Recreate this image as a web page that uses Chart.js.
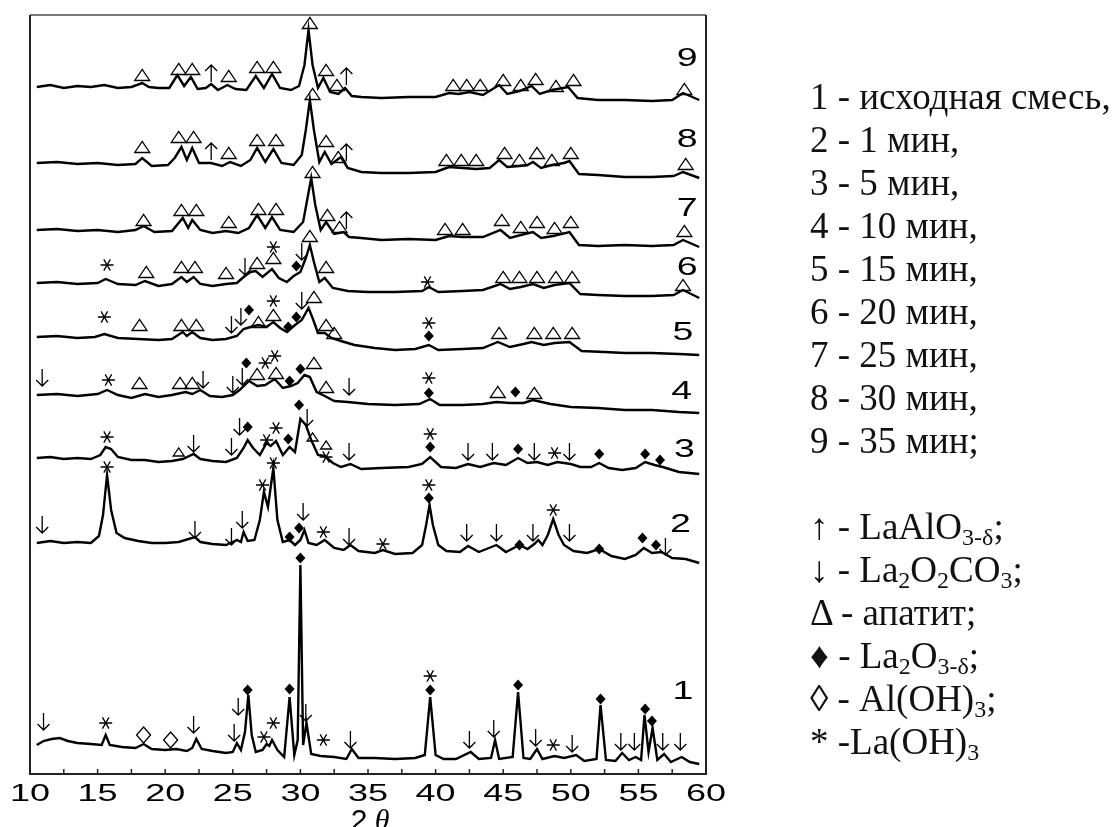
<!DOCTYPE html>
<html>
<head>
<meta charset="utf-8">
<script src="https://cdn.jsdelivr.net/npm/chart.js@4.4.1/dist/chart.umd.min.js"></script>
<style>
  body { margin: 0; background: #fff; }
  #wrap { position: absolute; left: 0; top: 0; width: 1117px; height: 827px; }
  #legend {
    position: absolute; left: 810px; top: 75px;
    font-family: "Liberation Serif", "Times New Roman", serif;
    font-size: 37px; line-height: 43px; color: #111; white-space: nowrap;
  }
  #legend .s { font-size: 24px; position: relative; top: 6px; line-height: 0; }
</style>
</head>
<body>
<div id="wrap"><canvas id="xrd"></canvas></div>
<div id="legend">
  1 - исходная смесь,<br>
  2 - 1 мин,<br>
  3 - 5 мин,<br>
  4 - 10 мин,<br>
  5 - 15 мин,<br>
  6 - 20 мин,<br>
  7 - 25 мин,<br>
  8 - 30 мин,<br>
  9 - 35 мин;<br>
  <br>
  ↑ - LaAlO<span class="s">3-δ</span>;<br>
  ↓ - La<span class="s">2</span>O<span class="s">2</span>CO<span class="s">3</span>;<br>
  Δ - апатит;<br>
  ♦ - La<span class="s">2</span>O<span class="s">3-δ</span>;<br>
  ◊ - Al(OH)<span class="s">3</span>;<br>
  * -La(OH)<span class="s">3</span>
</div>
<script>
// x axis
const xTicks = [10, 15, 20, 25, 30, 35, 40, 45, 50, 55, 60];
const xMinor = [12.5, 17.5, 22.5, 27.5, 32.5, 37.5, 42.5, 47.5, 52.5, 57.5];

// patterns (2theta, intensity a.u., stacked)
const p1 = [[10.5,29],[11.0,33],[11.6,35],[12.2,36],[12.8,33],[13.5,31],[14.5,30],[15.3,29],[15.6,39],[15.9,29],[16.8,27],[17.8,26],[18.4,30],[19.0,25],[20.0,24],[20.8,25],[21.6,23],[22.0,26],[22.3,35],[22.7,25],[23.5,23],[24.5,21],[25.0,22],[25.3,31],[25.6,24],[25.9,42],[26.15,79],[26.4,39],[26.7,22],[27.2,24],[27.5,30],[27.7,28],[27.9,34],[28.3,24],[28.8,17],[29.2,77],[29.55,19],[29.8,34],[30.0,209],[30.2,29],[30.45,51],[30.8,20],[31.5,18],[32.5,17],[33.4,15],[33.8,25],[34.3,16],[35.5,16],[37,15],[38.5,16],[39.2,19],[39.6,77],[40.0,19],[40.6,15],[41.5,15],[42.6,22],[43.2,15],[44.1,16],[44.4,34],[44.7,15],[45.7,17],[46.1,82],[46.5,16],[47.0,15],[47.5,25],[47.9,15],[48.8,18],[49.5,16],[50.4,19],[51.0,13],[51.9,15],[52.2,69],[52.6,14],[53.3,13],[53.8,21],[54.3,14],[54.8,17],[55.2,14],[55.45,59],[55.75,22],[56.05,46],[56.4,14],[56.9,20],[57.4,12],[58.2,17],[58.8,12],[59.5,10]];
const p2 = [[10.5,231],[11.5,233],[12.5,231],[13.5,232],[14.5,231],[15.1,238],[15.4,259],[15.7,299],[16.0,264],[16.4,241],[17,236],[18,233],[19,231],[20,231],[21,232],[22.2,237],[22.6,232],[23.5,230],[24.5,229],[25.3,234],[25.6,232],[25.8,242],[26.1,233],[26.6,234],[27.0,254],[27.3,282],[27.6,267],[28.0,306],[28.3,254],[28.7,232],[29.2,234],[29.6,229],[30.0,234],[30.3,244],[30.6,231],[31.2,229],[31.8,234],[32.5,226],[33.2,224],[33.7,229],[34.3,223],[35.5,221],[36.1,224],[37,220],[38.3,221],[39.0,229],[39.3,249],[39.55,269],[39.8,249],[40.2,229],[40.8,223],[41.8,222],[42.4,228],[43.2,222],[44.5,229],[45.2,222],[46.2,229],[46.8,225],[47.3,230],[47.6,234],[47.9,229],[48.3,239],[48.7,255],[49.1,239],[49.5,229],[50.2,223],[51.2,221],[52.1,225],[53.0,218],[54.0,215],[54.8,219],[55.4,226],[56.0,221],[56.7,222],[57.5,216],[58.5,215],[59.5,211]];
const p3 = [[10.5,316],[11.5,317],[12.5,315],[13.5,316],[14.5,315],[15.2,319],[15.6,327],[16.0,325],[16.5,317],[17.5,314],[18.5,314],[19.5,312],[20.5,313],[21.3,315],[22.1,320],[22.6,315],[23.5,313],[24.5,312],[25.3,316],[25.8,326],[26.1,334],[26.5,326],[27.0,319],[27.5,331],[27.8,328],[28.2,333],[28.7,319],[29.2,327],[29.6,322],[30.0,355],[30.4,349],[30.8,334],[31.3,319],[31.8,318],[32.4,311],[33.0,307],[33.7,310],[34.5,305],[36,306],[38,307],[39.0,310],[39.6,317],[40.4,307],[41.5,306],[42.4,310],[43.3,307],[44.3,311],[45.2,309],[46.1,316],[46.8,311],[47.5,312],[48.3,309],[49.0,312],[50.0,310],[50.7,307],[51.5,307],[52.1,311],[52.8,306],[53.8,304],[54.8,306],[55.5,312],[56.2,309],[56.8,307],[58,302],[59.5,300]];
const p4 = [[10.5,379],[12,380],[13.5,378],[15,380],[15.7,384],[16.5,379],[17.5,376],[18.5,380],[19.5,377],[20.5,379],[21.5,382],[22.0,380],[22.6,384],[23.3,378],[24.2,377],[25.0,379],[25.5,384],[26.2,393],[26.8,388],[27.4,389],[28.1,395],[28.7,386],[29.3,388],[29.8,391],[30.3,399],[30.7,397],[31.2,382],[31.8,378],[32.5,373],[33.5,372],[35,370],[37,369],[38.8,370],[39.6,375],[40.3,369],[42,369],[43.5,370],[44.5,372],[45.5,371],[46.5,371],[47.2,374],[48.5,370],[50,367],[52,366],[54,364],[56,364],[58,362],[59.5,361]];
const p5 = [[10.5,437],[12,438],[13.5,436],[14.8,437],[15.5,440],[16.5,436],[18,435],[19.5,434],[20.5,435],[21.3,442],[21.6,438],[22.0,442],[22.6,436],[23.5,434],[24.5,435],[25.3,438],[25.8,445],[26.3,447],[26.9,449],[27.5,447],[28.0,452],[28.5,446],[29.0,442],[29.6,449],[30.1,454],[30.6,466],[30.9,456],[31.3,441],[31.8,441],[32.3,436],[33,433],[34,429],[35.5,426],[37,424],[38.5,425],[39.5,429],[40.2,424],[42,425],[43.5,426],[44.6,432],[45.5,427],[46.5,430],[47.1,432],[48,429],[48.8,431],[49.9,432],[50.8,423],[52.5,422],[54,421],[56,421],[58,420],[59.5,419]];
const p6 = [[10.5,491],[12,492],[13.5,490],[15,491],[15.6,495],[16.5,490],[17.8,489],[18.5,493],[19.5,488],[20.5,490],[21.2,497],[21.6,492],[22.1,497],[22.6,490],[23.5,488],[24.5,490],[25.3,491],[25.8,497],[26.3,502],[26.7,503],[27.2,497],[27.9,505],[28.4,496],[29.0,492],[29.5,498],[30.0,502],[30.4,516],[30.7,529],[31.0,512],[31.4,492],[31.8,496],[32.4,486],[33.5,483],[35,482],[37,482],[39,483],[39.5,487],[40.2,482],[42,483],[43.5,484],[44.8,490],[45.5,485],[46.3,487],[47.2,490],[48,486],[48.8,489],[49.9,491],[50.7,480],[52,479],[54,478],[56,478],[57.6,479],[58.3,484],[59.5,476]];
const p7 = [[10.5,544],[12,545],[13.5,543],[15,544],[16.5,542],[17.8,544],[18.4,548],[19.2,542],[20.5,543],[21.3,556],[21.7,546],[22.0,554],[22.6,544],[23.5,541],[24.5,543],[25.4,541],[26.2,546],[26.8,559],[27.4,546],[27.9,557],[28.5,544],[29.5,542],[30.2,552],[30.5,574],[30.8,596],[31.1,569],[31.5,544],[31.9,552],[32.5,540],[33.2,542],[33.6,537],[34.5,536],[36,534],[38,535],[40,534],[41,538],[42,537],[43.5,537],[44.8,544],[45.5,536],[46.3,539],[47.2,542],[47.8,536],[48.7,538],[49.9,542],[50.6,529],[52,528],[54,529],[56,528],[57.6,529],[58.3,534],[59.5,527]];
const p8 = [[10.5,611],[12,612],[13.5,610],[15,611],[16.5,609],[17.8,610],[18.3,616],[19,608],[20.2,609],[20.7,616],[21.2,627],[21.6,614],[22.0,626],[22.5,611],[23.4,611],[24.2,608],[24.8,612],[25.6,608],[26.3,614],[26.8,626],[27.4,612],[28.0,625],[28.6,611],[29.5,609],[30.1,619],[30.4,644],[30.7,674],[31.0,644],[31.4,612],[31.8,622],[32.3,610],[33.0,617],[33.5,606],[34.5,602],[36,601],[38,601],[40,602],[41,607],[42,606],[43,605],[44.0,606],[44.7,614],[45.3,607],[46.2,608],[46.8,609],[47.2,612],[47.8,606],[48.6,609],[49.5,611],[49.9,613],[50.6,600],[52,599],[54,597],[56,597],[57.6,598],[58.3,602],[59.5,596]];
const p9 = [[10.5,687],[11.5,689],[12.5,686],[13.5,688],[14.5,687],[15.5,689],[16.5,686],[17.5,687],[18.3,691],[18.8,687],[19.5,686],[20.3,686],[20.9,699],[21.4,688],[21.9,697],[22.4,685],[23.0,686],[23.4,690],[23.9,684],[24.6,689],[25.2,685],[26.0,684],[26.7,698],[27.3,686],[27.9,700],[28.5,686],[29.3,684],[29.9,688],[30.3,709],[30.6,744],[30.9,709],[31.3,686],[31.7,696],[32.2,682],[32.8,680],[33.3,686],[33.8,678],[34.5,677],[36,676],[38,677],[40,677],[41,681],[41.7,680],[42.5,682],[43.5,679],[44.7,689],[45.3,680],[46.2,683],[47.1,688],[47.7,680],[48.6,684],[49.8,687],[50.5,676],[52,674],[54,674],[56,673],[57.5,674],[58.3,681],[59.5,674]];
const patterns = [p1, p2, p3, p4, p5, p6, p7, p8, p9];

// phase marks: t = apatite, T = small apatite, u = LaAlO3, d = La2O2CO3, f = La2O3, o = Al(OH)3, s = La(OH)3
const m1 = [[11.0,52,'d'],[15.6,51,'s'],[18.4,39,'o'],[20.4,34,'o'],[22.1,49,'d'],[25.1,41,'d'],[25.4,67,'d'],[26.1,84,'f'],[27.3,37,'s'],[28.0,51,'s'],[29.2,85,'f'],[30.0,216,'f'],[30.4,61,'d'],[31.7,34,'s'],[33.7,34,'d'],[39.6,98,'s'],[39.6,84,'f'],[42.5,34,'d'],[44.3,45,'d'],[46.1,89,'f'],[47.4,36,'d'],[48.7,29,'s'],[50.1,30,'d'],[52.2,75,'f'],[53.7,32,'d'],[54.7,32,'d'],[55.5,65,'f'],[56.0,53,'f'],[56.8,32,'d'],[58.1,32,'d']];
const m2 = [[10.9,249,'d'],[15.7,307,'s'],[22.2,244,'d'],[24.9,237,'d'],[25.7,254,'d'],[27.2,289,'s'],[28.0,311,'s'],[29.2,237,'f'],[29.9,246,'f'],[30.2,262,'d'],[31.7,242,'s'],[33.6,237,'d'],[36.1,230,'s'],[39.5,289,'s'],[39.5,276,'f'],[42.3,241,'d'],[44.5,241,'d'],[46.2,229,'f'],[47.2,241,'d'],[48.7,264,'s'],[49.9,241,'d'],[52.1,225,'f'],[55.3,236,'f'],[56.3,229,'f'],[57.0,227,'d']];
const m3 = [[15.7,337,'s'],[21.0,322,'T'],[22.1,330,'d'],[24.9,327,'d'],[25.5,347,'d'],[26.1,347,'f'],[27.5,334,'s'],[28.2,346,'s'],[29.1,335,'f'],[29.9,369,'f'],[30.5,356,'d'],[30.9,337,'T'],[31.9,329,'T'],[31.9,317,'s'],[33.6,322,'d'],[39.6,340,'s'],[39.6,327,'f'],[42.4,322,'d'],[44.2,322,'d'],[46.1,325,'f'],[47.3,322,'d'],[48.8,321,'s'],[49.9,322,'d'],[52.1,320,'f'],[55.5,320,'f'],[56.6,314,'f']];
const m4 = [[10.9,396,'d'],[15.8,394,'s'],[18.1,391,'t'],[21.1,391,'t'],[22.0,391,'t'],[22.8,394,'d'],[25.0,389,'d'],[25.7,397,'d'],[26.0,411,'f'],[26.8,400,'t'],[27.4,411,'s'],[28.1,418,'s'],[28.2,401,'t'],[29.2,393,'f'],[30.0,405,'f'],[31.0,411,'t'],[31.9,387,'t'],[33.6,387,'d'],[39.5,396,'s'],[39.5,381,'f'],[44.6,382,'t'],[45.9,382,'f'],[47.3,381,'t']];
const m5 = [[15.5,457,'s'],[18.1,449,'t'],[21.2,449,'t'],[22.3,449,'t'],[24.9,449,'d'],[25.6,457,'d'],[26.2,464,'f'],[26.9,452,'t'],[28.0,473,'s'],[28.0,459,'t'],[29.1,447,'f'],[29.7,457,'f'],[30.1,473,'d'],[31.0,477,'t'],[31.9,449,'t'],[32.5,441,'t'],[39.5,451,'s'],[39.5,438,'f'],[44.7,441,'t'],[47.3,441,'t'],[48.7,441,'t'],[50.1,441,'t']];
const m6 = [[15.7,509,'s'],[18.6,502,'t'],[21.2,507,'t'],[22.2,507,'t'],[24.5,501,'t'],[25.9,507,'d'],[26.8,511,'t'],[28.0,527,'s'],[28.0,516,'t'],[29.7,508,'f'],[30.1,522,'d'],[30.7,538,'t'],[31.9,507,'t'],[39.4,492,'s'],[45.0,497,'t'],[46.2,497,'t'],[47.5,497,'t'],[48.9,497,'t'],[50.1,497,'t'],[58.3,489,'t']];
const m7 = [[18.4,554,'t'],[21.2,564,'t'],[22.3,564,'t'],[24.7,552,'t'],[26.9,565,'t'],[28.2,565,'t'],[30.9,602,'t'],[32.0,559,'t'],[32.9,547,'t'],[33.4,554,'u'],[40.7,545,'t'],[42.0,545,'t'],[44.9,554,'t'],[46.3,547,'t'],[47.5,552,'t'],[48.8,546,'t'],[50.0,552,'t'],[58.4,543,'t']];
const m8 = [[18.3,627,'t'],[21.0,637,'t'],[22.1,637,'t'],[23.4,623,'u'],[24.7,621,'t'],[26.8,634,'t'],[28.2,634,'t'],[30.9,680,'t'],[31.9,633,'t'],[32.8,617,'t'],[33.4,622,'u'],[40.8,614,'t'],[41.9,614,'t'],[43.0,614,'t'],[45.1,621,'t'],[46.2,614,'t'],[47.5,621,'t'],[48.6,614,'t'],[50.0,621,'t'],[58.5,610,'t']];
const m9 = [[18.3,699,'t'],[21.0,705,'t'],[22.0,705,'t'],[23.4,701,'u'],[24.7,698,'t'],[26.8,707,'t'],[28.0,707,'t'],[30.7,751,'t'],[31.9,704,'t'],[32.7,689,'t'],[33.4,698,'u'],[41.3,689,'t'],[42.3,689,'t'],[43.3,689,'t'],[45.0,694,'t'],[46.3,689,'t'],[47.4,695,'t'],[48.9,688,'t'],[50.2,694,'t'],[58.4,685,'t']];
const marks = [m1, m2, m3, m4, m5, m6, m7, m8, m9];

// curve numbers and where they sit
const curveNames = ['1', '2', '3', '4', '5', '6', '7', '8', '9'];
const curveNamePos = [[58.3,82],[58.1,249],[58.4,324],[58.2,382],[58.3,441],[58.6,506],[58.6,565],[58.6,634],[58.6,715]];

function drawMark(ctx, type, x, y) {
    ctx.beginPath();
    if (type === 't' || type === 'T') {
        const w = type === 't' ? 7.5 : 5.5, h = type === 't' ? 5.5 : 4;
        ctx.moveTo(x - w, y + h);
        ctx.lineTo(x, y - h);
        ctx.lineTo(x + w, y + h);
        ctx.closePath();
        ctx.stroke();
    } else if (type === 'f') {
        ctx.moveTo(x, y - 5.5); ctx.lineTo(x + 5, y); ctx.lineTo(x, y + 5.5); ctx.lineTo(x - 5, y);
        ctx.closePath();
        ctx.fill();
    } else if (type === 'o') {
        ctx.moveTo(x, y - 8); ctx.lineTo(x + 7, y); ctx.lineTo(x, y + 8); ctx.lineTo(x - 7, y);
        ctx.closePath();
        ctx.stroke();
    } else if (type === 'd' || type === 'u') {
        const s = type === 'd' ? 1 : -1;
        ctx.moveTo(x, y - 9 * s); ctx.lineTo(x, y + 8 * s);
        ctx.moveTo(x - 6, y + 2 * s); ctx.lineTo(x, y + 8 * s); ctx.lineTo(x + 6, y + 2 * s);
        ctx.stroke();
    } else if (type === 's') {
        [0, 60, 120].forEach(a => {
            const r = a * Math.PI / 180;
            ctx.moveTo(x - 6.5 * Math.cos(r), y - 6.5 * Math.sin(r));
            ctx.lineTo(x + 6.5 * Math.cos(r), y + 6.5 * Math.sin(r));
        });
        ctx.stroke();
    }
}

function wideText(ctx, text, x, y, size, stretch) {
    ctx.save();
    ctx.translate(x, y);
    ctx.scale(stretch, 1);
    ctx.font = size + 'px "Liberation Sans", Arial, sans-serif';
    ctx.textAlign = 'center';
    ctx.textBaseline = 'middle';
    ctx.fillText(text, 0, 0);
    ctx.restore();
}

const decorPlugin = {
    id: 'decor',
    afterDatasetsDraw(chart) {
        const ctx = chart.ctx;
        const xs = chart.scales.x, ys = chart.scales.y;
        const a = chart.chartArea;
        ctx.save();
        ctx.fillStyle = '#000';
        ctx.strokeStyle = '#000';
        ctx.lineWidth = 1.3;

        marks.forEach(list => list.forEach(([x, y, t]) => {
            drawMark(ctx, t, xs.getPixelForValue(x), ys.getPixelForValue(y));
        }));

        curveNames.forEach((n, i) => {
            const [x, y] = curveNamePos[i];
            wideText(ctx, n, xs.getPixelForValue(x), ys.getPixelForValue(y), 25, 1.5);
        });

        // frame
        ctx.lineWidth = 2;
        ctx.strokeStyle = '#777';
        ctx.beginPath(); ctx.moveTo(a.left, a.top); ctx.lineTo(a.right, a.top); ctx.stroke();
        ctx.strokeStyle = '#222';
        ctx.beginPath();
        ctx.moveTo(a.left, a.top); ctx.lineTo(a.left, a.bottom); ctx.lineTo(a.right, a.bottom); ctx.lineTo(a.right, a.top);
        ctx.stroke();

        // ticks pointing inward
        ctx.lineWidth = 1.5;
        xTicks.concat(xMinor).forEach(v => {
            const px = xs.getPixelForValue(v);
            ctx.beginPath(); ctx.moveTo(px, a.bottom); ctx.lineTo(px, a.bottom - 5); ctx.stroke();
        });
        xTicks.forEach(v => {
            wideText(ctx, String(v), xs.getPixelForValue(v), a.bottom + 20, 24, 1.5);
        });

        // axis title 2θ
        ctx.font = '30px "Liberation Sans", Arial, sans-serif';
        ctx.textAlign = 'center';
        ctx.textBaseline = 'alphabetic';
        ctx.fillText('2', 359, 830);
        ctx.font = 'italic 30px "Liberation Serif", serif';
        ctx.fillText('θ', 382, 830);
        ctx.restore();
    }
};

new Chart(document.getElementById('xrd'), {
    type: 'line',
    data: {
        datasets: patterns.map(p => ({
            data: p.map(([x, y]) => ({ x, y })),
            borderColor: '#000',
            borderWidth: 2.4,
            pointRadius: 0,
            tension: 0,
            fill: false
        }))
    },
    options: {
        responsive: true,
        maintainAspectRatio: false,
        animation: false,
        layout: { padding: { left: 30, right: 411, top: 15, bottom: 53 } },
        plugins: { legend: { display: false }, tooltip: { enabled: false } },
        scales: {
            x: { type: 'linear', min: 10, max: 60, display: false },
            y: { min: 0, max: 759, display: false }
        }
    },
    plugins: [decorPlugin]
});
</script>
</body>
</html>
